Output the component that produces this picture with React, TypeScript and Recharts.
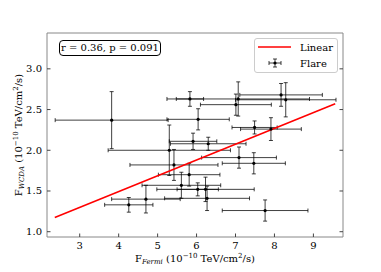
import React from "react";
import { ScatterChart, Scatter, XAxis, YAxis, ErrorBar, Label } from "recharts";

// flare fluxes, 10^-10 TeV/cm^2/s
const fermiFlux = [3.82, 5.83, 7.07, 7.01, 8.17, 8.29, 6.04, 7.49, 7.91, 5.91, 6.3, 5.3, 5.42, 7.09, 7.47, 5.81, 5.61, 6.03, 6.23, 6.27, 4.7, 4.26, 7.76];
const fermiErr = [1.45, 0.35, 1.83, 0.91, 1.06, 1.29, 0.8, 0.58, 0.78, 0.61, 0.97, 1.57, 1.13, 0.96, 0.81, 0.79, 1.01, 0.53, 1.25, 1.09, 0.88, 0.62, 1.1];
const wcdaFlux = [2.37, 2.63, 2.63, 2.56, 2.68, 2.62, 2.38, 2.28, 2.26, 2.11, 2.08, 2.0, 1.82, 1.91, 1.84, 1.7, 1.57, 1.52, 1.52, 1.41, 1.4, 1.33, 1.26];
const wcdaErr = [0.35, 0.09, 0.21, 0.13, 0.14, 0.21, 0.13, 0.08, 0.14, 0.1, 0.08, 0.31, 0.19, 0.13, 0.13, 0.14, 0.16, 0.08, 0.15, 0.15, 0.17, 0.09, 0.13];

const fitSlope = 0.194;
const fitIntercept = 0.718;
const fitRange = [2.36, 9.56];

const xTicks = [3, 4, 5, 6, 7, 8, 9];
const yTicks = [1.0, 1.5, 2.0, 2.5, 3.0];
const xDomain = [2.16, 9.76];
const yDomain = [0.935, 3.44];

const FONT = "'DejaVu Serif', serif";
const FRAME = "#888";
const TICK = "#444";

const flares = fermiFlux.map((x, i) => ({
  x,
  y: wcdaFlux[i],
  xerr: fermiErr[i],
  yerr: wcdaErr[i],
}));
const fitLine = fitRange.map((x) => ({ x, y: fitIntercept + fitSlope * x }));

function BottomTick({ x, y, payload }: any) {
  return (
    <g>
      <line x1={x} y1={y} x2={x} y2={y - 3.5} stroke={TICK} />
      <text x={x} y={y + 12} textAnchor="middle" fontSize={10} fontFamily={FONT} fill="#000">
        {payload.value}
      </text>
    </g>
  );
}

function LeftTick({ x, y, payload }: any) {
  return (
    <g>
      <line x1={x} y1={y} x2={x + 3.5} y2={y} stroke={TICK} />
      <text x={x - 5} y={y + 3.5} textAnchor="end" fontSize={10} fontFamily={FONT} fill="#000">
        {Number(payload.value).toFixed(1)}
      </text>
    </g>
  );
}

function TopTick({ x, y }: any) {
  return <line x1={x} y1={y} x2={x} y2={y + 3.5} stroke={TICK} />;
}

function RightTick({ x, y }: any) {
  return <line x1={x} y1={y} x2={x - 3.5} y2={y} stroke={TICK} />;
}

function Dot({ cx, cy }: any) {
  return <circle cx={cx} cy={cy} r={1.6} fill="#000" />;
}

function XLabel({ viewBox }: any) {
  const cx = viewBox.x + viewBox.width / 2;
  const y = 262;
  return (
    <text x={cx} y={y} textAnchor="middle" fontSize={10} fontFamily={FONT} fill="#000">
      F
      <tspan fontSize={7} fontStyle="italic" dy={2}>Fermi</tspan>
      <tspan dy={-2}> (10</tspan>
      <tspan fontSize={7} dy={-4}>−10</tspan>
      <tspan dy={4}> TeV/cm</tspan>
      <tspan fontSize={7} dy={-4}>2</tspan>
      <tspan dy={4}>/s)</tspan>
    </text>
  );
}

function YLabel() {
  const cx = 22;
  const cy = 135;
  return (
    <text x={cx} y={cy} transform={`rotate(-90 ${cx} ${cy})`} textAnchor="middle" fontSize={10} fontFamily={FONT} fill="#000">
      F
      <tspan fontSize={7} fontStyle="italic" dy={2}>WCDA</tspan>
      <tspan dy={-2}> (10</tspan>
      <tspan fontSize={7} dy={-4}>−10</tspan>
      <tspan dy={4}> TeV/cm</tspan>
      <tspan fontSize={7} dy={-4}>2</tspan>
      <tspan dy={4}>/s)</tspan>
    </text>
  );
}

export default function App() {
  return (
    <div style={{ position: "absolute", left: 0, top: 0, width: 381, height: 272, background: "#fff" }}>
      <ScatterChart width={381} height={272} margin={{ top: 32, right: 37, bottom: 34, left: 46 }}>
        <XAxis
          type="number"
          dataKey="x"
          domain={xDomain}
          allowDataOverflow
          ticks={xTicks}
          height={1}
          tickSize={0}
          tickMargin={0}
          tickLine={false}
          tick={<BottomTick />}
          axisLine={{ stroke: FRAME }}
        >
          <Label content={<XLabel />} />
        </XAxis>
        <XAxis
          xAxisId="top"
          orientation="top"
          type="number"
          domain={xDomain}
          allowDataOverflow
          ticks={xTicks}
          height={1}
          tickSize={0}
          tickMargin={0}
          tickLine={false}
          tick={<TopTick />}
          axisLine={{ stroke: FRAME }}
        />
        <YAxis
          type="number"
          dataKey="y"
          domain={yDomain}
          allowDataOverflow
          ticks={yTicks}
          width={1}
          tickSize={0}
          tickMargin={0}
          tickLine={false}
          tick={<LeftTick />}
          axisLine={{ stroke: FRAME }}
        >
          <Label content={<YLabel />} />
        </YAxis>
        <YAxis
          yAxisId="right"
          orientation="right"
          type="number"
          domain={yDomain}
          allowDataOverflow
          ticks={yTicks}
          width={1}
          tickSize={0}
          tickMargin={0}
          tickLine={false}
          tick={<RightTick />}
          axisLine={{ stroke: FRAME }}
        />
        <Scatter
          data={fitLine}
          line={{ stroke: "#ff0000", strokeWidth: 1.6 }}
          shape={() => <g />}
          isAnimationActive={false}
        />
        <Scatter data={flares} shape={<Dot />} isAnimationActive={false}>
          <ErrorBar dataKey="xerr" direction="x" width={2} stroke="#000" strokeOpacity={0.75} strokeWidth={1} />
          <ErrorBar dataKey="yerr" direction="y" width={2} stroke="#000" strokeOpacity={0.75} strokeWidth={1} />
        </Scatter>
      </ScatterChart>
      <div
        style={{
          position: "absolute",
          left: 59,
          top: 40,
          width: 100,
          height: 14,
          border: "1px solid #000",
          borderRadius: 4,
          fontFamily: FONT,
          fontSize: 10,
          lineHeight: "14px",
          textAlign: "center",
          background: "#fff",
        }}
      >
        r = 0.36, p = 0.091
      </div>
      <div
        style={{
          position: "absolute",
          left: 254,
          top: 38,
          width: 82,
          height: 33,
          border: "1px solid #ccc",
          borderRadius: 3,
          background: "rgba(255,255,255,0.8)",
          fontFamily: FONT,
          fontSize: 10,
        }}
      >
        <div style={{ position: "absolute", left: 3, top: 1, height: 14, display: "flex", alignItems: "center" }}>
          <svg width={34} height={14}>
            <line x1={0} y1={7} x2={33} y2={7} stroke="#ff0000" strokeWidth={1.6} />
          </svg>
          <span style={{ marginLeft: 8 }}>Linear</span>
        </div>
        <div style={{ position: "absolute", left: 3, top: 17, height: 14, display: "flex", alignItems: "center" }}>
          <svg width={34} height={14}>
            <line x1={11} y1={7} x2={23} y2={7} stroke="#000" strokeOpacity={0.75} />
            <line x1={17} y1={3} x2={17} y2={11} stroke="#000" strokeOpacity={0.75} />
            <line x1={11} y1={5} x2={11} y2={9} stroke="#000" strokeOpacity={0.75} />
            <line x1={23} y1={5} x2={23} y2={9} stroke="#000" strokeOpacity={0.75} />
            <line x1={15} y1={3} x2={19} y2={3} stroke="#000" strokeOpacity={0.75} />
            <line x1={15} y1={11} x2={19} y2={11} stroke="#000" strokeOpacity={0.75} />
            <circle cx={17} cy={7} r={1.6} fill="#000" />
          </svg>
          <span style={{ marginLeft: 8 }}>Flare</span>
        </div>
      </div>
    </div>
  );
}
